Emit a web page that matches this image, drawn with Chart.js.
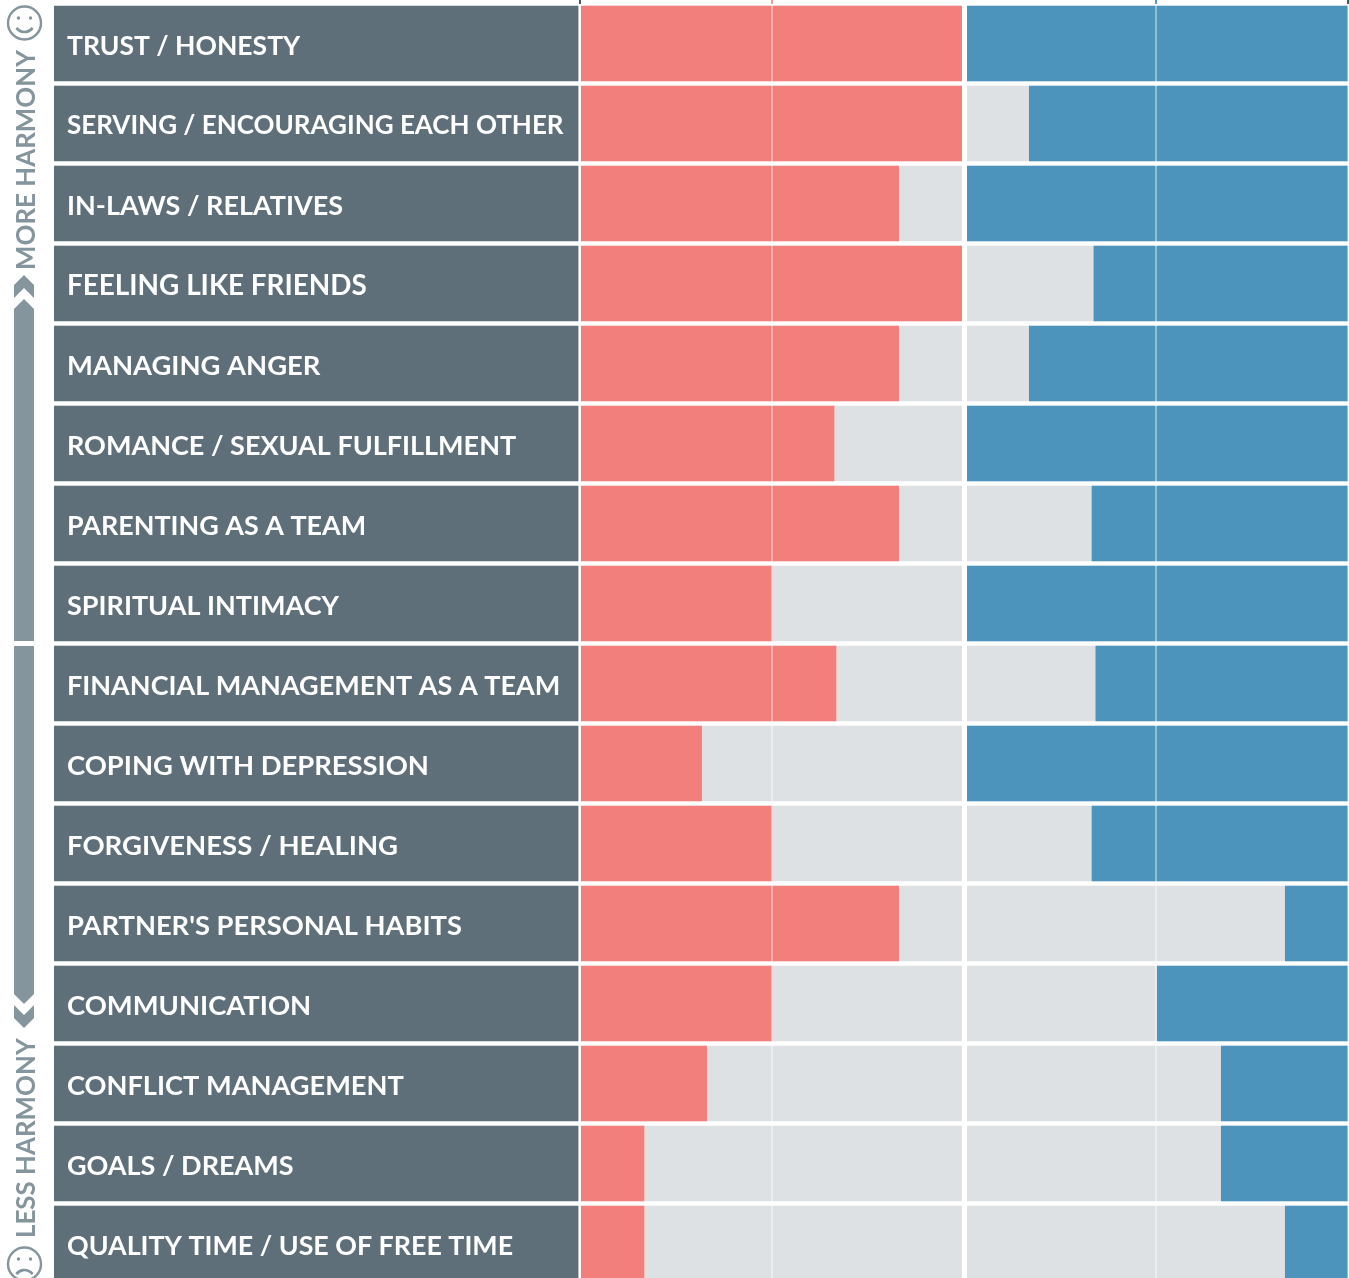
<!DOCTYPE html>
<html><head><meta charset="utf-8">
<style>html,body{margin:0;padding:0;background:#fff;width:1349px;height:1278px;overflow:hidden}
#wrap{width:1349px;height:1278px;overflow:hidden;position:relative}canvas{display:block}</style>
<script src="https://cdn.jsdelivr.net/npm/chart.js@4"></script></head>
<body><div id="wrap"><canvas id="c" width="1349" height="1284"></canvas></div>
<script>
const categories=["TRUST / HONESTY","SERVING / ENCOURAGING EACH OTHER","IN-LAWS / RELATIVES","FEELING LIKE FRIENDS","MANAGING ANGER","ROMANCE / SEXUAL FULFILLMENT","PARENTING AS A TEAM","SPIRITUAL INTIMACY","FINANCIAL MANAGEMENT AS A TEAM","COPING WITH DEPRESSION","FORGIVENESS / HEALING","PARTNER'S PERSONAL HABITS","COMMUNICATION","CONFLICT MANAGEMENT","GOALS / DREAMS","QUALITY TIME / USE OF FREE TIME"];
const leftScores=[5.97,5.97,4.98,5.97,4.98,3.97,4.98,3,4,1.9,3,4.98,3,1.98,1,1];
const rightScores=[5.97,4.98,5.97,3.97,4.98,5.97,4,5.97,3.94,5.97,4,0.98,2.98,1.98,1.98,0.98];
const labelFontSizes=[26.5,26,27,27.9,27.4,27,26.9,27,27,27.4,27.5,27.3,27.4,27.2,27,26.8];
const panelMax=6;
const labelStart=-8.21875;
const tickValues=[0,3,6,9,12];
const DARK='#5E6F79',PINK='#F27F7B',GREY='#DEE1E4',BLUE='#4D94BC',SIDE='#84959D';
const FONT='Lato';
const side={id:'side',afterDraw(ch){const c=ch.ctx;c.save();c.fillStyle=SIDE;c.strokeStyle=SIDE;
 const poly=p=>{c.beginPath();p.forEach((q,i)=>i?c.lineTo(q[0],q[1]):c.moveTo(q[0],q[1]));c.closePath();c.fill();};
 poly([[24,275],[34,285],[34,298],[24,288],[14,298],[14,285]]);
 poly([[24,299],[34,309],[34,641],[14,641],[14,309]]);
 poly([[14,646],[34,646],[34,994],[24,1004],[14,994]]);
 poly([[14,1005],[24,1015],[34,1005],[34,1018],[24,1028],[14,1018]]);
 const txt=(t,y)=>{c.save();c.translate(35,y);c.rotate(-Math.PI/2);c.font='700 25.9px '+FONT;c.textAlign='left';c.textBaseline='alphabetic';c.fillStyle=SIDE;c.fillText(t,0,0);c.restore();};
 txt('MORE HARMONY',270);txt('LESS HARMONY',1238);
 const face=(y,up)=>{c.lineWidth=2.4;c.beginPath();c.arc(24.5,y,16.5,0,2*Math.PI);c.stroke();
  c.beginPath();c.arc(18.5,y-5,1.7,0,7);c.arc(30.5,y-5,1.7,0,7);c.fill();
  c.lineWidth=2.6;c.beginPath();if(up)c.arc(24.5,y-1,10,.2*Math.PI,.8*Math.PI);else c.arc(24.5,y+16,10,1.2*Math.PI,1.8*Math.PI);c.stroke();};
 face(23,true);face(1264,false);
 c.restore();}};
const bar=(label,data,color,order)=>({label,data,backgroundColor:color,order,barThickness:75,grouped:false,borderWidth:0});
new Chart(document.getElementById('c'),{type:'bar',plugins:[side],
 data:{labels:categories,datasets:[
  bar('Label',categories.map(()=>[labelStart,-0.03]),DARK,5),
  bar('Left track',categories.map(()=>[0,panelMax]),GREY,4),
  bar('Right track',categories.map(()=>[panelMax,2*panelMax]),GREY,4),
  bar('Left',leftScores.map(v=>[0,v]),PINK,2),
  bar('Right',rightScores.map(v=>[2*panelMax-v,2*panelMax]),BLUE,2)
 ]},
 options:{indexAxis:'y',responsive:false,animation:false,devicePixelRatio:1,
  layout:{padding:{left:54,right:1,top:0,bottom:0.5}},
  plugins:{legend:{display:false},tooltip:{enabled:false}},
  scales:{
   x:{type:'linear',position:'top',min:labelStart,max:12,
    afterBuildTicks:s=>{s.ticks=tickValues.map(value=>({value}));},
    afterFit:s=>{s.height=3.5;},
    border:{display:false},
    ticks:{display:false},
    grid:{z:1,drawTicks:true,tickLength:3.5,offset:false,
     color:ct=>{const v=ct.tick.value;return v===6?'#fff':v===0?'rgba(255,255,255,.85)':'rgba(255,255,255,.4)';},
     lineWidth:ct=>ct.tick.value===6?5:2,
     tickColor:ct=>{const v=ct.tick.value;return v===3?'#F3A09C':v===9?'#5A9CC2':v===6?'#fff':'#4A5860';},
     tickWidth:2}},
   y:{type:'category',position:'left',border:{display:false},grid:{display:false,drawTicks:false},
    afterFit:s=>{s.width=0;s.paddingTop=0;s.paddingBottom=0;},
    ticks:{mirror:true,z:2,padding:13,labelOffset:2.5,color:'#fff',autoSkip:false,
     font:ct=>({family:FONT,size:labelFontSizes[ct.index],weight:'700'})}}
  }}});
</script></body></html>
